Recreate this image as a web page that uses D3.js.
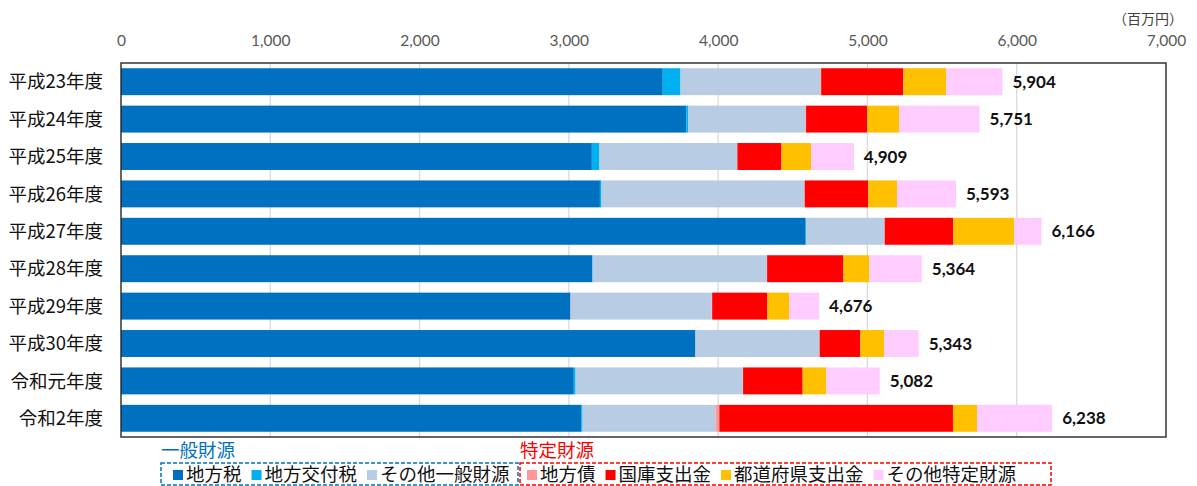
<!DOCTYPE html>
<html lang="ja">
<head>
<meta charset="utf-8">
<script src="https://cdn.jsdelivr.net/npm/d3@7"></script>
<style>
  html, body { margin: 0; padding: 0; background: #fff; }
  svg { display: block; }
</style>
</head>
<body>
<svg id="chart" width="1197" height="486"></svg>
<script>
// Fiscal years (rows, top to bottom)
const years = ["平成23年度", "平成24年度", "平成25年度", "平成26年度", "平成27年度",
               "平成28年度", "平成29年度", "平成30年度", "令和元年度", "令和2年度"];

// Funding sources (stack order, left to right), in millions of yen
const sourceNames = ["地方税", "地方交付税", "その他一般財源", "地方債", "国庫支出金", "都道府県支出金", "その他特定財源"];
const localTax      = [3629, 3788, 3154, 3208, 4586, 3157, 3011, 3848, 3033, 3083];
const allocationTax = [ 119,   13,   51,   11,    5,    3,    0,    0,   12,    9];
const otherGeneral  = [ 937,  783,  922, 1359,  522, 1168,  946,  830, 1120,  890];
const localBonds    = [   5,    5,    2,    2,    3,    0,    3,    2,    2,   26];
const nationalAid   = [ 550,  410,  295,  426,  459,  511,  370,  273,  399, 1565];
const prefectureAid = [ 288,  214,  200,  192,  408,  174,  147,  160,  159,  161];
const otherSpecific = [ 376,  538,  285,  395,  183,  351,  199,  230,  357,  504];
const totals        = [5904, 5751, 4909, 5593, 6166, 5364, 4676, 5343, 5082, 6238];

const sourceColors = ["#0070c0", "#00b0f0", "#b8cce4", "#ff9999", "#ff0000", "#ffc000", "#ffccff"];

// Axis ticks
const tickValues = [0, 1000, 2000, 3000, 4000, 5000, 6000, 7000];
const unitLabel = "（百万円）";

// Legend groups
const groupTitles = ["一般財源", "特定財源"];
const groupMembers = [[0, 1, 2], [3, 4, 5, 6]];
const groupColors = ["#0070c0", "#ff0000"];

const seriesValues = [localTax, allocationTax, otherGeneral, localBonds, nationalAid, prefectureAid, otherSpecific];
const rows = years.map((y, i) => {
  const r = { year: y, total: totals[i] };
  sourceNames.forEach((s, k) => { r[s] = seriesValues[k][i]; });
  return r;
});

const svg = d3.select("#chart");
const jp = "'Noto Sans CJK JP', 'Noto Sans', sans-serif";
const num = "Lato, 'Liberation Sans', sans-serif";

const plot = { left: 121, right: 1166, top: 63, bottom: 437 };

const x = d3.scaleLinear().domain([0, 7000]).range([plot.left, plot.right]);
const y = d3.scaleBand().domain(years).range([plot.top, plot.bottom])
  .paddingInner(0.28).paddingOuter(0.14);
const color = d3.scaleOrdinal().domain(sourceNames).range(sourceColors);

// Vertical gridlines
svg.append("g")
  .selectAll("line")
  .data(tickValues.slice(1, -1))
  .join("line")
  .attr("x1", d => x(d)).attr("x2", d => x(d))
  .attr("y1", plot.top).attr("y2", plot.bottom)
  .attr("stroke", "#d9d9d9").attr("stroke-width", 1.3);

// Top value axis (labels only)
const axis = svg.append("g")
  .attr("transform", `translate(0,${plot.top})`)
  .call(d3.axisTop(x).tickValues(tickValues).tickSize(0).tickPadding(17)
    .tickFormat(d3.format(",")));
axis.select(".domain").remove();
axis.selectAll("text")
  .attr("font-family", num).attr("font-size", 15.5).attr("fill", "#595959");

svg.append("text")
  .attr("x", 1183).attr("y", 24)
  .attr("text-anchor", "end")
  .attr("font-family", jp).attr("font-size", 14).attr("fill", "#404040")
  .text(unitLabel);

// Stacked bars
const stacked = d3.stack().keys(sourceNames)(rows);
svg.append("g")
  .selectAll("g")
  .data(stacked)
  .join("g")
  .attr("fill", d => color(d.key))
  .selectAll("rect")
  .data(d => d)
  .join("rect")
  .attr("x", d => x(d[0]))
  .attr("width", d => Math.max(0, x(d[1]) - x(d[0])))
  .attr("y", d => y(d.data.year))
  .attr("height", y.bandwidth());

// Total labels
svg.append("g")
  .selectAll("text")
  .data(rows)
  .join("text")
  .attr("x", d => x(d.total) + 10)
  .attr("y", d => y(d.year) + y.bandwidth() / 2)
  .attr("dy", "0.36em")
  .attr("font-family", num).attr("font-weight", "bold").attr("font-size", 17)
  .attr("fill", "#111")
  .text(d => d3.format(",")(d.total));

// Category labels
svg.append("g")
  .selectAll("text")
  .data(years)
  .join("text")
  .attr("x", 103)
  .attr("y", d => y(d) + y.bandwidth() / 2)
  .attr("dy", "0.36em")
  .attr("text-anchor", "end")
  .attr("font-family", jp).attr("font-size", 18.5).attr("fill", "#111")
  .text(d => d);

// Plot frame
svg.append("rect")
  .attr("x", plot.left).attr("y", plot.top)
  .attr("width", plot.right - plot.left).attr("height", plot.bottom - plot.top)
  .attr("fill", "none").attr("stroke", "#262626").attr("stroke-width", 1.4);

// Legend: two dashed groups with titles
const legend = svg.append("g");
const boxTop = 463, boxH = 22;
const boxLeft = [161, 520];
const itemStart = [173, 527];
groupMembers.forEach((members, gi) => {
  const g = legend.append("g");
  const startX = boxLeft[gi];
  let cursor = itemStart[gi];
  g.append("text")
    .attr("x", startX).attr("y", 457)
    .attr("font-family", jp).attr("font-size", 18.5).attr("fill", groupColors[gi])
    .text(groupTitles[gi]);
  members.forEach(k => {
    g.append("rect")
      .attr("x", cursor).attr("y", boxTop + 7)
      .attr("width", 10).attr("height", 10)
      .attr("fill", sourceColors[k]);
    const t = g.append("text")
      .attr("x", cursor + 13).attr("y", boxTop + 18)
      .attr("font-family", jp).attr("font-size", 18.5).attr("fill", "#111")
      .text(sourceNames[k]);
    cursor += 13 + t.node().getComputedTextLength() + 10;
  });
  const endX = gi === 0 ? 518 : 1051;
  g.insert("rect", ":first-child")
    .attr("x", startX).attr("y", boxTop)
    .attr("width", endX - startX).attr("height", boxH)
    .attr("fill", "none").attr("stroke", groupColors[gi])
    .attr("stroke-width", 1.5).attr("stroke-dasharray", "4,2");
});
</script>
</body>
</html>
